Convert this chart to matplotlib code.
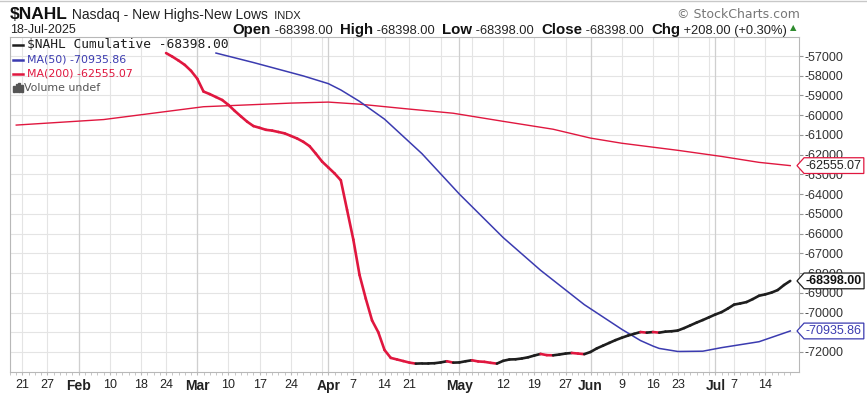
"""
$NAHL (Nasdaq New Highs - New Lows, cumulative) with MA(50) / MA(200),
StockCharts style, Jan 21 - Jul 18 2025.
"""
import numpy as np
import pandas as pd
import matplotlib
matplotlib.use("Agg")
import matplotlib.pyplot as plt
from matplotlib.collections import LineCollection
from matplotlib.lines import Line2D
from matplotlib.patches import Rectangle
from matplotlib.path import Path

W, H = 867, 398
SANS = "Liberation Sans"
LEG_FONT = "DejaVu Sans"

RED = "#e0173f"
BLUE = "#3b3bb0"
BLACK = "#1e1e1e"

# NYSE holidays in the window
HOLIDAYS = ["2025-01-20", "2025-02-17", "2025-04-18", "2025-05-26",
            "2025-06-19", "2025-07-04"]

# daily cumulative values, one per trading day starting at CUM_START
CUM_START = "2025-02-24"
cum_values = [
    -56850, -57030, -57230, -57450, -57750, -58150, -58800, -58930, -59080, -59230,
    -59480, -59780, -60060, -60330, -60550, -60640, -60740, -60780, -60850, -60920,
    -61050, -61180, -61350, -61570, -61950, -62350, -62650, -62950, -63300, -64800,
    -66300, -68100, -69300, -70400, -71000, -71900, -72300, -72380, -72460, -72540,
    -72590, -72580, -72580, -72570, -72530, -72470, -72540, -72530, -72470, -72420,
    -72480, -72500, -72550, -72590, -72450, -72380, -72370, -72330, -72270, -72180,
    -72100, -72160, -72170, -72130, -72080, -72050, -72080, -72110, -72000, -71820,
    -71680, -71540, -71400, -71280, -71170, -71080, -70990, -71020, -70990, -71020,
    -70970, -70950, -70910, -70790, -70650, -70510, -70380, -70240, -70100, -69980,
    -69800, -69600, -69540, -69470, -69320, -69150, -69080, -68990, -68860, -68606,
    -68398,
]

ma50_dates = ["2025-03-06", "2025-03-14", "2025-03-26", "2025-04-01", "2025-04-03",
              "2025-04-08", "2025-04-14", "2025-04-23", "2025-05-01", "2025-05-12",
              "2025-05-20", "2025-05-30", "2025-06-09", "2025-06-12", "2025-06-16",
              "2025-06-17", "2025-06-23", "2025-06-27", "2025-07-02", "2025-07-11",
              "2025-07-18"]
ma50_values = [-56850, -57330, -58010, -58400, -58720,
               -59300, -60200, -61950, -64000, -66200,
               -67860, -69600, -70850, -71420, -71700,
               -71820, -71975, -71960, -71780, -71480,
               -70936]

ma200_dates = ["2025-01-17", "2025-02-07", "2025-03-04", "2025-03-24", "2025-04-01",
               "2025-04-08", "2025-04-17", "2025-04-30", "2025-05-12", "2025-05-22",
               "2025-06-02", "2025-06-09", "2025-06-23", "2025-07-02", "2025-07-11",
               "2025-07-18"]
ma200_values = [-60500, -60220, -59570, -59386, -59335,
                -59440, -59660, -59900, -60310, -60710,
                -61160, -61420, -61780, -62090, -62390,
                -62555]

last_cum, last_ma50, last_ma200 = -68398.00, -70935.86, -62555.07
y_ticks = list(range(-57000, -72001, -1000))
hidden_tick = -71000  # sits under the MA(50) tag in the original

# trading-day calendar, x = trading-day number (Jan 21 -> 0)
days = pd.bdate_range("2025-01-10", "2025-07-25", freq="C", holidays=HOLIDAYS)
origin = days.get_loc(pd.Timestamp("2025-01-21"))


def xpos(d):
    return days.get_loc(pd.Timestamp(d)) - origin


fig = plt.figure(figsize=(W / 100, H / 100), dpi=100)
L, R, T, B = 10, 799, 37, 372
ax = fig.add_axes([L / W, 1 - B / H, (R - L) / W, (B - T) / H])
ax.set_xlim(-1.6, 124.4)
ax.set_ylim(-73015, -56036)

# grid: horizontal every 1000, vertical each week, darker at month starts
for v in y_ticks:
    ax.axhline(v, color="#e4e4e4", lw=0.8, zorder=0)
trade_days = days[(days >= "2025-01-16") & (days <= "2025-07-18")]
weeks, months = [], []
prev = None
for d in trade_days:
    if prev is None or d.isocalendar()[1] != prev.isocalendar()[1]:
        weeks.append(d)
    if prev is None or d.month != prev.month:
        months.append(d)
    prev = d
months = [m for m in months if m > pd.Timestamp("2025-01-31")]
for d in weeks:
    ax.axvline(xpos(d), color="#e4e4e4", lw=0.8, zorder=0)
for d in months:
    ax.axvline(xpos(d), color="#cfcfcf", lw=0.9, zorder=0)

# tick labels: months bold, week starts unless too close to a month start
tick_pos, tick_lab, tick_bold = [], [], []
for d in weeks:
    if d < pd.Timestamp("2025-01-21") or d in months:
        continue
    gaps = [xpos(m) - xpos(d) for m in months]
    if any(0 < g <= 3 or -2 <= g < 0 for g in gaps):
        continue
    tick_pos.append(xpos(d)); tick_lab.append(str(d.day)); tick_bold.append(False)
for m in months:
    tick_pos.append(xpos(m)); tick_lab.append(m.strftime("%b")); tick_bold.append(True)
ax.set_xticks(tick_pos)
ax.set_xticklabels(tick_lab, fontsize=9, family=SANS, color="#222")
for lab, b in zip(ax.get_xticklabels(), tick_bold):
    if b:
        lab.set_fontweight("bold")
        lab.set_fontsize(10)
ax.set_xticks([xpos(d) for d in trade_days], minor=True)
ax.tick_params(axis="x", which="both", length=2, color="#bbbbbb", pad=3)

ax.yaxis.tick_right()
ax.set_yticks(y_ticks)
ax.set_yticklabels(["" if v == hidden_tick else str(v) for v in y_ticks],
                   fontsize=9, family=SANS, color="#333")
ax.tick_params(axis="y", length=3, color="#999999", pad=1)
for s in ax.spines.values():
    s.set_color("#b8b8b8")
    s.set_linewidth(0.8)

# moving averages
ax.plot([xpos(d) for d in ma200_dates], ma200_values, color=RED, lw=1.0, zorder=2)
ax.plot([xpos(d) for d in ma50_dates], ma50_values, color=BLUE, lw=1.1, zorder=2)

# cumulative line, red on down days, black on up days
cx = np.arange(len(cum_values)) + xpos(CUM_START)
cy = np.array(cum_values, dtype=float)
segs = [[(cx[i], cy[i]), (cx[i + 1], cy[i + 1])] for i in range(len(cy) - 1)]
cols = [RED if cy[i + 1] < cy[i] else BLACK for i in range(len(cy) - 1)]
ax.add_collection(LineCollection(segs, colors=cols, linewidths=1.9,
                                 capstyle="round", joinstyle="round", zorder=3))


# price tags on the right axis
def tag_box(x0, y0, width, height, mutation_size):
    pad = mutation_size * 0.15
    x0, y0 = x0 - pad, y0 - pad
    w, h = width + 2 * pad, height + 2 * pad
    tip = h * 0.45
    verts = [(x0 - tip, y0 + h / 2), (x0, y0), (x0 + w, y0), (x0 + w, y0 + h),
             (x0, y0 + h), (x0 - tip, y0 + h / 2)]
    return Path(verts, closed=True)


for val, txt, ec, tc, wt in [
    (last_ma200, f"{last_ma200:.2f}", RED, "#222", "normal"),
    (last_cum, f"{last_cum:.2f}", BLACK, "#111", "bold"),
    (last_ma50, f"{last_ma50:.2f}", BLUE, BLUE, "normal"),
]:
    ax.annotate(txt, xy=(1, val), xycoords=ax.get_yaxis_transform(),
                xytext=(5, 0), textcoords="offset points", va="center", ha="left",
                fontsize=9, family=SANS, color=tc, fontweight=wt, annotation_clip=False,
                bbox=dict(boxstyle=tag_box, fc="white", ec=ec, lw=0.9), zorder=10)


# in-chart legend
def px(x, y):
    return x / W, 1 - y / H


leg_rows = [
    (f"$NAHL Cumulative {last_cum:.2f}", BLACK, 45, "DejaVu Sans Mono", 9.3),
    (f"MA(50) {last_ma50:.2f}", BLUE, 60, LEG_FONT, 7.9),
    (f"MA(200) {last_ma200:.2f}", RED, 74, LEG_FONT, 7.9),
]
for txt, c, y, fam, sz in leg_rows:
    x0, y0 = px(13, y)
    x1, _ = px(23, y)
    fig.add_artist(Line2D([x0, x1], [y0, y0], color=c, lw=1.8))
    fig.text(*px(27, y), txt, color=c, fontsize=sz, family=fam, va="center")
for i, hgt in enumerate([6, 8, 9, 7]):
    fig.add_artist(Rectangle(px(13 + i * 2.6, 92), 1.8 / W, hgt / H,
                             transform=fig.transFigure, color="#555"))
fig.text(*px(24, 88), "Volume undef", color="#555", fontsize=7.9, family=LEG_FONT, va="center")

# header
renderer = fig.canvas.get_renderer()


def run_text(x, y, pieces, ha="left"):
    """Draw text pieces side by side starting (or ending) at pixel x."""
    arts = []
    for s, wt, sz, c in pieces:
        t = fig.text(0, 1 - y / H, s, fontsize=sz, fontweight=wt, color=c,
                     family=SANS, va="baseline")
        arts.append((t, t.get_window_extent(renderer).width))
    total = sum(w for _, w in arts)
    cur = x if ha == "left" else x - total
    for t, w in arts:
        t.set_x(cur / W)
        cur += w


run_text(10, 19, [("$NAHL", "bold", 12.5, "#111"),
                  (" Nasdaq - New Highs-New Lows", "normal", 10, "#222"),
                  ("  INDX", "normal", 8, "#222")])
fig.text(*px(10, 33), "18-Jul-2025", fontsize=9, family=SANS, color="#222", va="baseline")
VAL = 9.3
LAB = 10.8
run_text(787, 34, [("Open", "bold", LAB, "#111"), (" -68398.00  ", "normal", VAL, "#222"),
                   ("High", "bold", LAB, "#111"), (" -68398.00  ", "normal", VAL, "#222"),
                   ("Low", "bold", LAB, "#111"), (" -68398.00  ", "normal", VAL, "#222"),
                   ("Close", "bold", LAB, "#111"), (" -68398.00  ", "normal", VAL, "#222"),
                   ("Chg", "bold", LAB, "#111"), (" +208.00 (+0.30%)", "normal", VAL, "#222")],
         ha="right")
fig.text(*px(790, 30), "\u25B2", fontsize=6, color="#2e8b2e", family="DejaVu Sans", va="baseline")
fig.text(*px(800, 18), "\u00A9 StockCharts.com", fontsize=9, family="DejaVu Sans",
         color="#777", ha="right", va="baseline")
fig.add_artist(Line2D([0, 1], [1 - 1 / H, 1 - 1 / H], color="#c8c8c8", lw=1))

fig.savefig("out.png", dpi=100)
